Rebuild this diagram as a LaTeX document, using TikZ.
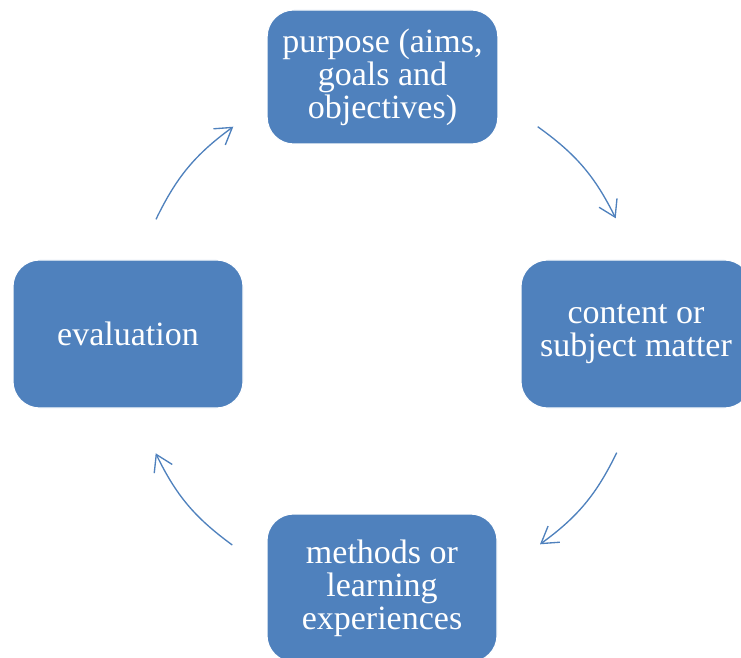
\documentclass[tikz,border=0pt]{standalone}
\usepackage{fontspec}
\setmainfont{Liberation Serif}
\usetikzlibrary{arrows.meta}

\definecolor{stageblue}{HTML}{4F81BD}

\begin{document}
\begin{tikzpicture}[x=0.75pt,y=0.75pt,->,>={Straight Barb[length=12pt,width=15pt]},
 stage node/.style={rectangle,rounded corners=20pt,draw=white,line width=0.8pt,
  fill=stageblue,text=white,align=center,inner sep=0pt,
  minimum width=172.5pt,minimum height=111pt,
  font=\fontsize{25.5}{24.75}\selectfont}]

  \path[use as bounding box] (0,0) rectangle (741,657);
  \clip (0,0) rectangle (741,657);

  \node[stage node] (purpose) [minimum width=173pt,minimum height=100.5pt] at (382.5,580) {purpose (aims,\\goals and\\objectives)};
  \node[stage node] (content) at (636,323) {content or\\subject matter};
  \node[stage node] (methods) at (382,69) {methods or\\learning\\experiences};
  \node[stage node] (eval) at (128,323) {evaluation};

  % ends of the cycle arrows
  \coordinate (eval out) at (156,437.7);
  \coordinate (purpose in) at (233.3,530.3);
  \coordinate (purpose out) at (537.7,530.3);
  \coordinate (content in) at (615.7,438.7);
  \coordinate (content out) at (616.7,204.3);
  \coordinate (methods in) at (540,112.7);
  \coordinate (methods out) at (232.3,112);
  \coordinate (eval in) at (155.7,203.7);

  \foreach \s/\t in {eval out/purpose in, purpose out/content in,
   content out/methods in, methods out/eval in} {
   \path[stageblue, line width=1pt] (\s) edge[bend left=14] (\t);}
\end{tikzpicture}
\end{document}
